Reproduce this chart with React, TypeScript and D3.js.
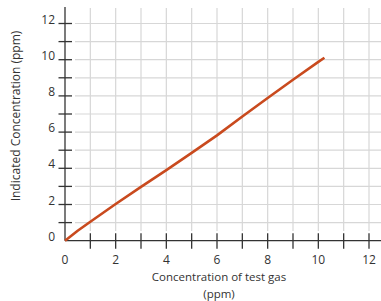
import React, { useEffect, useRef } from 'react'
import * as d3 from 'd3'

// test gas concentration (ppm) vs indicated concentration (ppm)
const testGas = [0, 0.5, 1, 2, 3, 4, 5, 6, 7, 8, 9, 10, 10.24]
const indicated = [0, 0.55, 1.05, 2.03, 2.97, 3.9, 4.85, 5.82, 6.86, 7.88, 8.89, 9.88, 10.11]
const gridValues = [1, 2, 3, 4, 5, 6, 7, 8, 9, 10, 11, 12]
const tickLabels = [0, 2, 4, 6, 8, 10, 12]

const W = 381
const H = 301
const FONT = '"Open Sans", "Noto Sans", sans-serif'

const App = () => {
  const svgRef = useRef<SVGSVGElement | null>(null)

  useEffect(() => {
    const svg = d3.select(svgRef.current)
    svg.selectAll('*').remove()

    const x = d3.scaleLinear().domain([0, 12]).range([65, 369])
    const y = d3.scaleLinear().domain([0, 12]).range([240.7, 23.5])

    const gridTop = 8
    const gridBottom = 231
    const gridLeft = 75

    // grid
    const grid = svg.append('g').attr('stroke', '#d7d7d7').attr('stroke-width', 1.2)
    grid.selectAll('line.v')
      .data(gridValues)
      .enter()
      .append('line')
      .attr('class', 'v')
      .attr('x1', d => x(d)).attr('x2', d => x(d))
      .attr('y1', gridTop).attr('y2', gridBottom)
    grid.selectAll('line.h')
      .data(gridValues)
      .enter()
      .append('line')
      .attr('class', 'h')
      .attr('x1', gridLeft).attr('x2', W)
      .attr('y1', d => y(d)).attr('y2', d => y(d))

    // axes
    const axes = svg.append('g').attr('stroke', '#333').attr('stroke-width', 1.3)
    axes.append('line')
      .attr('x1', x(0)).attr('x2', x(0))
      .attr('y1', 7).attr('y2', y(0))
    axes.append('line')
      .attr('x1', x(0)).attr('x2', W)
      .attr('y1', y(0)).attr('y2', y(0))

    // cross ticks
    axes.selectAll('line.yt')
      .data(gridValues)
      .enter()
      .append('line')
      .attr('class', 'yt')
      .attr('x1', x(0) - 6.5).attr('x2', x(0) + 7)
      .attr('y1', d => y(d)).attr('y2', d => y(d))
    axes.selectAll('line.xt')
      .data(gridValues)
      .enter()
      .append('line')
      .attr('class', 'xt')
      .attr('x1', d => x(d)).attr('x2', d => x(d))
      .attr('y1', y(0) - 7.5).attr('y2', y(0) + 8)

    // tick labels
    svg.append('g')
      .selectAll('text')
      .data(tickLabels)
      .enter()
      .append('text')
      .attr('x', 55)
      .attr('y', d => y(d))
      .attr('text-anchor', 'end')
      .style('font-family', FONT)
      .style('font-size', '12px')
      .style('fill', '#333')
      .text(d => d)

    svg.append('g')
      .selectAll('text')
      .data(tickLabels)
      .enter()
      .append('text')
      .attr('x', d => x(d))
      .attr('y', 263.5)
      .attr('text-anchor', 'middle')
      .style('font-family', FONT)
      .style('font-size', '12px')
      .style('fill', '#333')
      .text(d => d)

    // data line
    const points = testGas.map((v, i) => [v, indicated[i]] as [number, number])
    const line = d3.line<[number, number]>()
      .x(d => x(d[0]))
      .y(d => y(d[1]))
    svg.append('path')
      .datum(points)
      .attr('d', line)
      .attr('fill', 'none')
      .attr('stroke', '#c94a1e')
      .attr('stroke-width', 2.6)
      .attr('stroke-linejoin', 'round')

    // axis titles
    const xTitle = svg.append('text')
      .attr('text-anchor', 'middle')
      .style('font-family', FONT)
      .style('font-size', '11.5px')
      .style('fill', '#333')
    xTitle.append('tspan').attr('x', 219).attr('y', 280.5).text('Concentration of test gas')
    xTitle.append('tspan').attr('x', 219).attr('y', 297.5).text('(ppm)')

    svg.append('text')
      .attr('transform', 'translate(19.5,116) rotate(-90)')
      .attr('text-anchor', 'middle')
      .style('font-family', FONT)
      .style('font-size', '12px')
      .style('fill', '#333')
      .text('Indicated Concentration (ppm)')
  }, [])

  return (
    <svg
      ref={svgRef}
      width={W}
      height={H}
      style={{ position: 'absolute', left: 0, top: 0, background: '#fff' }}
    />
  )
}

export default App
